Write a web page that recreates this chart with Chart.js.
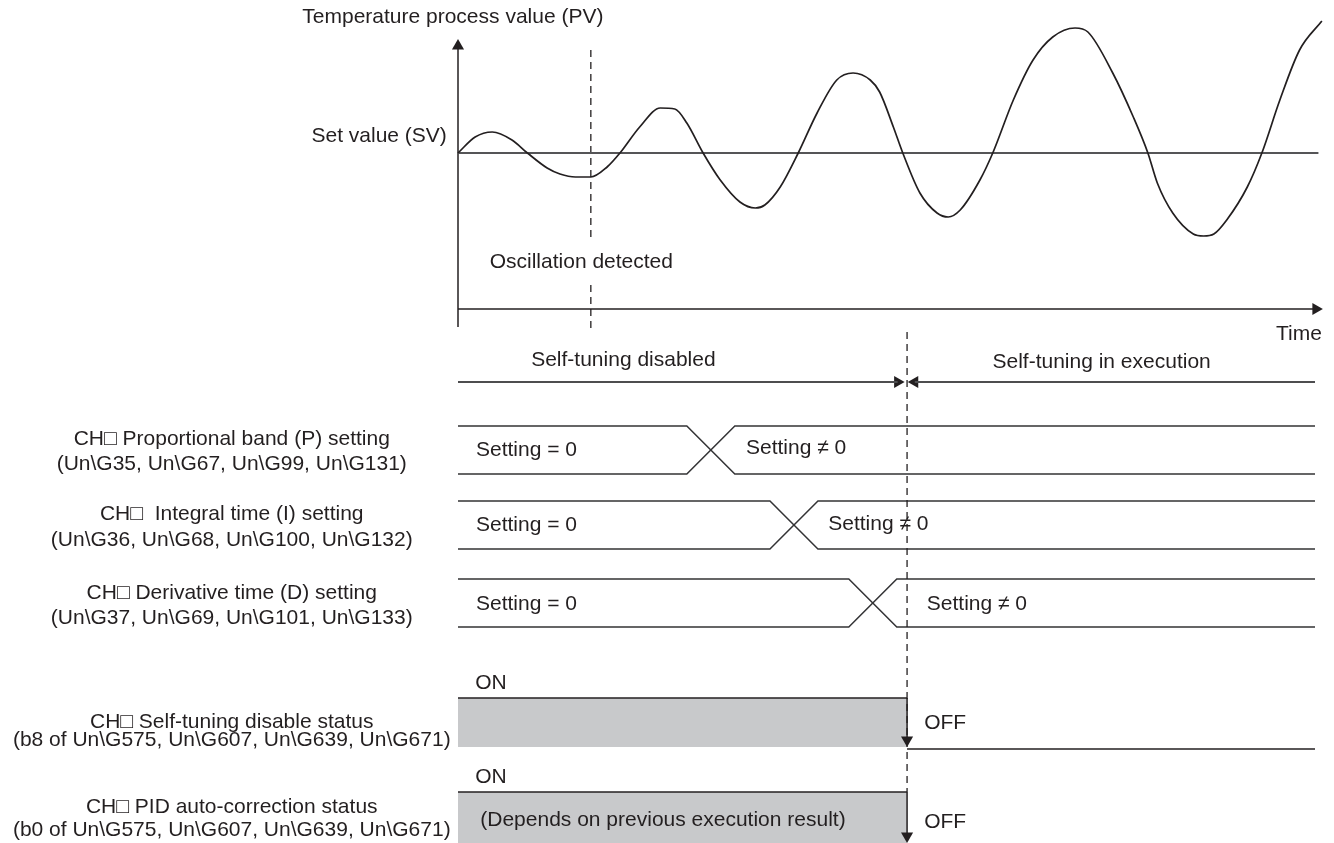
<!DOCTYPE html>
<html><head><meta charset="utf-8">
<script src="https://cdn.jsdelivr.net/npm/chart.js@4.4.1/dist/chart.umd.min.js"></script>
<style>html,body{margin:0;padding:0;background:#fff;overflow:hidden}canvas{display:block}</style>
</head><body>
<canvas id="c" width="1334" height="843"></canvas>
<script>
// ================= DATA =================
// Temperature process value (deviation from SV) over time (arbitrary time units 0..100)
const pvTime = [0.0,2.0,4.0,6.3,8.1,10.4,11.9,13.7,15.5,17.4,18.9,21.2,23.6,25.3,26.7,28.6,30.6,32.9,34.7,35.8,37.6,39.7,41.9,44.2,46.1,48.1,49.2,50.8,51.9,53.9,55.9,57.2,58.6,60.9,62.4,64.8,67.1,69.4,72.0,73.5,76.4,78.8,80.5,81.6,83.4,85.8,87.0,88.2,89.7,92.1,93.8,95.9,98.2,100.8];
const pvValue = [0,1.6,2.1,1.3,0,-1.5,-2.1,-2.4,-2.4,-1.4,0,2.6,4.5,4.4,3.0,0,-2.7,-4.9,-5.5,-5.2,-3.4,0,4.0,7.3,8.0,7.3,6.1,2.6,0,-4.0,-6.0,-6.4,-5.7,-2.7,0,5.3,9.3,11.6,12.5,12.1,8.0,3.6,0,-3.0,-6.0,-8.1,-8.3,-8.1,-6.7,-3.4,0,5.3,10.3,13.2];
const setValue = 0;
const oscillationTime = 15.5;
const tuningStartTime = 52.4;
const timeEnd = 100;
// P, I, D setting changes (start / end of the transition)
const settingCrossStart = [26.7, 36.4, 45.6];
const settingCrossEnd   = [32.3, 42.0, 51.2];
// status signals: ON until this time, then OFF
const statusOffTime = [52.4, 52.4];

// text
const topTexts = ['Temperature process value (PV)', 'Set value (SV)', 'Oscillation detected', 'Time'];
const phaseTexts = ['Self-tuning disabled', 'Self-tuning in execution'];
const rowLabels = [
  ['CH\u25A1 Proportional band (P) setting', '(Un\\G35, Un\\G67, Un\\G99, Un\\G131)'],
  ['CH\u25A1  Integral time (I) setting', '(Un\\G36, Un\\G68, Un\\G100, Un\\G132)'],
  ['CH\u25A1 Derivative time (D) setting', '(Un\\G37, Un\\G69, Un\\G101, Un\\G133)'],
  ['CH\u25A1 Self-tuning disable status', '(b8 of Un\\G575, Un\\G607, Un\\G639, Un\\G671)'],
  ['CH\u25A1 PID auto-correction status', '(b0 of Un\\G575, Un\\G607, Un\\G639, Un\\G671)']
];
const settingTexts = ['Setting = 0', 'Setting \u2260 0'];
const statusTexts = ['ON', 'OFF', '(Depends on previous execution result)'];

// ================= LAYOUT (positions / styles) =================
const INK = '#231f20';
const GREY = '#c8c9cb';
const FONT = '21px "Liberation Sans", Arial, "DejaVu Sans", sans-serif';
const L = {
  pvAxisBottom: -17.4, pvAxisTop: 10.7, timeAxisLevel: -15.6, timeArrow: 100.1,
  oscDash: [[10.3, -8.4], [-13.2, -17.5]],
  phaseLine: 38.2, phaseArrowL: 51.3, phaseArrowR: 53.3,
  tuneDash: [33.2, 79.2],
  rows: [{top: 42.6, bot: 47.4}, {top: 50.1, bot: 54.9}, {top: 57.9, bot: 62.7}],
  status: [{top: 69.8, bot: 74.7, arrow: 74.0, off: 74.9}, {top: 79.2, bot: 86, arrow: 83.6, off: null}],
  labelX: -26.4,
  rowLabelY: [[43.9, 46.4], [51.4, 54.0], [59.3, 61.8], [72.2, 74.0], [80.7, 83.0]],
  setting0: {t: 2.1, y: [45.0, 52.5, 60.4]},
  settingN: {t: [33.6, 43.2, 54.7], y: [44.8, 52.4, 60.4]},
  on: {t: 2.0, y: [68.3, 77.7]},
  off: {t: 54.4, y: [72.3, 82.2]},
  depends: {t: 2.6, y: 82.0}
};

function line(points, axis, extra) {
  return Object.assign({type: 'line', data: points, yAxisID: axis, borderColor: INK, borderWidth: 1.5,
    pointRadius: 0, pointHoverRadius: 0, fill: false, clip: false, tension: 0}, extra || {});
}
function arrowHead(x, y, rot, axis) {
  return {type: 'line', showLine: false, data: [{x: x, y: y}], yAxisID: axis, pointStyle: 'triangle',
    pointRadius: 7, pointHoverRadius: 7, rotation: rot, backgroundColor: INK, borderColor: INK, borderWidth: 0, clip: false};
}

const datasets = [];
// top panel
datasets.push(line(pvTime.map((t, i) => ({x: t, y: pvValue[i]})), 'y', {borderWidth: 1.7, cubicInterpolationMode: 'monotone'}));
datasets.push(line([{x: 0, y: setValue}, {x: timeEnd + 0.4, y: setValue}], 'y', {borderColor: '#555557', borderWidth: 2}));
datasets.push(line([{x: 0, y: L.pvAxisBottom}, {x: 0, y: L.pvAxisTop}], 'y'));
datasets.push(arrowHead(0, L.pvAxisTop, 0, 'y'));
datasets.push(line([{x: 0, y: L.timeAxisLevel}, {x: timeEnd, y: L.timeAxisLevel}], 'y'));
datasets.push(arrowHead(L.timeArrow, L.timeAxisLevel, 90, 'y'));
datasets.push(line([
  {x: oscillationTime, y: L.oscDash[0][0]}, {x: oscillationTime, y: L.oscDash[0][1]}, {x: oscillationTime, y: null},
  {x: oscillationTime, y: L.oscDash[1][0]}, {x: oscillationTime, y: L.oscDash[1][1]}], 'y',
  {borderDash: [7, 5], borderWidth: 1.3, spanGaps: false}));
// phase arrows
datasets.push(line([{x: 0, y: L.phaseLine}, {x: L.phaseArrowL, y: L.phaseLine}], 'yr', {borderColor: '#4d4d4f', borderWidth: 2}));
datasets.push(arrowHead(L.phaseArrowL, L.phaseLine, 90, 'yr'));
datasets.push(line([{x: L.phaseArrowR, y: L.phaseLine}, {x: timeEnd, y: L.phaseLine}], 'yr', {borderColor: '#4d4d4f', borderWidth: 2}));
datasets.push(arrowHead(L.phaseArrowR, L.phaseLine, 270, 'yr'));
// tuning start dashed line
datasets.push(line([{x: tuningStartTime, y: L.tuneDash[0]}, {x: tuningStartTime, y: L.tuneDash[1]}], 'yr', {borderDash: [7, 5], borderWidth: 1.3}));
// P/I/D setting rows
settingCrossStart.forEach((a, i) => {
  const r = L.rows[i], b = settingCrossEnd[i];
  datasets.push(line([{x: 0, y: r.top}, {x: a, y: r.top}, {x: b, y: r.bot}, {x: timeEnd, y: r.bot}], 'yr', {borderColor: '#333335'}));
  datasets.push(line([{x: 0, y: r.bot}, {x: a, y: r.bot}, {x: b, y: r.top}, {x: timeEnd, y: r.top}], 'yr', {borderColor: '#333335'}));
});
// status rows
statusOffTime.forEach((t, i) => {
  const s = L.status[i];
  datasets.push(line([{x: t, y: s.top}, {x: t, y: s.arrow}], 'yr'));
  datasets.push(arrowHead(t, s.arrow, 180, 'yr'));
  if (s.off !== null) datasets.push(line([{x: t, y: s.off}, {x: timeEnd, y: s.off}], 'yr'));
  datasets.push(line([{x: 0, y: s.top}, {x: t, y: s.top}], 'yr', {fill: {value: s.bot}, backgroundColor: GREY}));
});

const textPlugin = {
  id: 'texts',
  afterDatasetsDraw(chart) {
    const ctx = chart.ctx, X = chart.scales.x, Y = chart.scales.y, R = chart.scales.yr;
    ctx.save();
    ctx.font = FONT; ctx.fillStyle = INK; ctx.textBaseline = 'middle';
    const put = (s, t, y, axis, align) => { ctx.textAlign = align; ctx.fillText(s, X.getPixelForValue(t), axis.getPixelForValue(y)); };
    put(topTexts[0], -0.6, 13.6, Y, 'center');
    put(topTexts[1], -1.3, 1.7, Y, 'right');
    put(topTexts[2], 3.7, -10.9, Y, 'left');
    put(topTexts[3], 100.8, -18.1, Y, 'right');
    put(phaseTexts[0], 19.3, 36.0, R, 'center');
    put(phaseTexts[1], 75.1, 36.2, R, 'center');
    rowLabels.forEach((lines, i) => lines.forEach((s, j) => put(s, L.labelX, L.rowLabelY[i][j], R, 'center')));
    L.setting0.y.forEach(y => put(settingTexts[0], L.setting0.t, y, R, 'left'));
    L.settingN.t.forEach((t, i) => put(settingTexts[1], t, L.settingN.y[i], R, 'left'));
    L.on.y.forEach(y => put(statusTexts[0], L.on.t, y, R, 'left'));
    L.off.y.forEach(y => put(statusTexts[1], L.off.t, y, R, 'left'));
    put(statusTexts[2], L.depends.t, L.depends.y, R, 'left');
    ctx.restore();
  }
};

new Chart(document.getElementById('c'), {
  type: 'line',
  data: {datasets: datasets},
  options: {
    responsive: false, animation: false, devicePixelRatio: 1, events: [],
    layout: {autoPadding: false, padding: {left: 458, right: 19, top: 0, bottom: 0}},
    plugins: {legend: {display: false}, tooltip: {enabled: false}},
    scales: {
      x: {type: 'linear', min: 0, max: 100, display: false},
      y: {type: 'linear', min: -69, max: 15.3, display: false},
      yr: {type: 'linear', reverse: true, min: 0, max: 84.3, display: false}
    }
  },
  plugins: [textPlugin]
});
</script>
</body></html>
